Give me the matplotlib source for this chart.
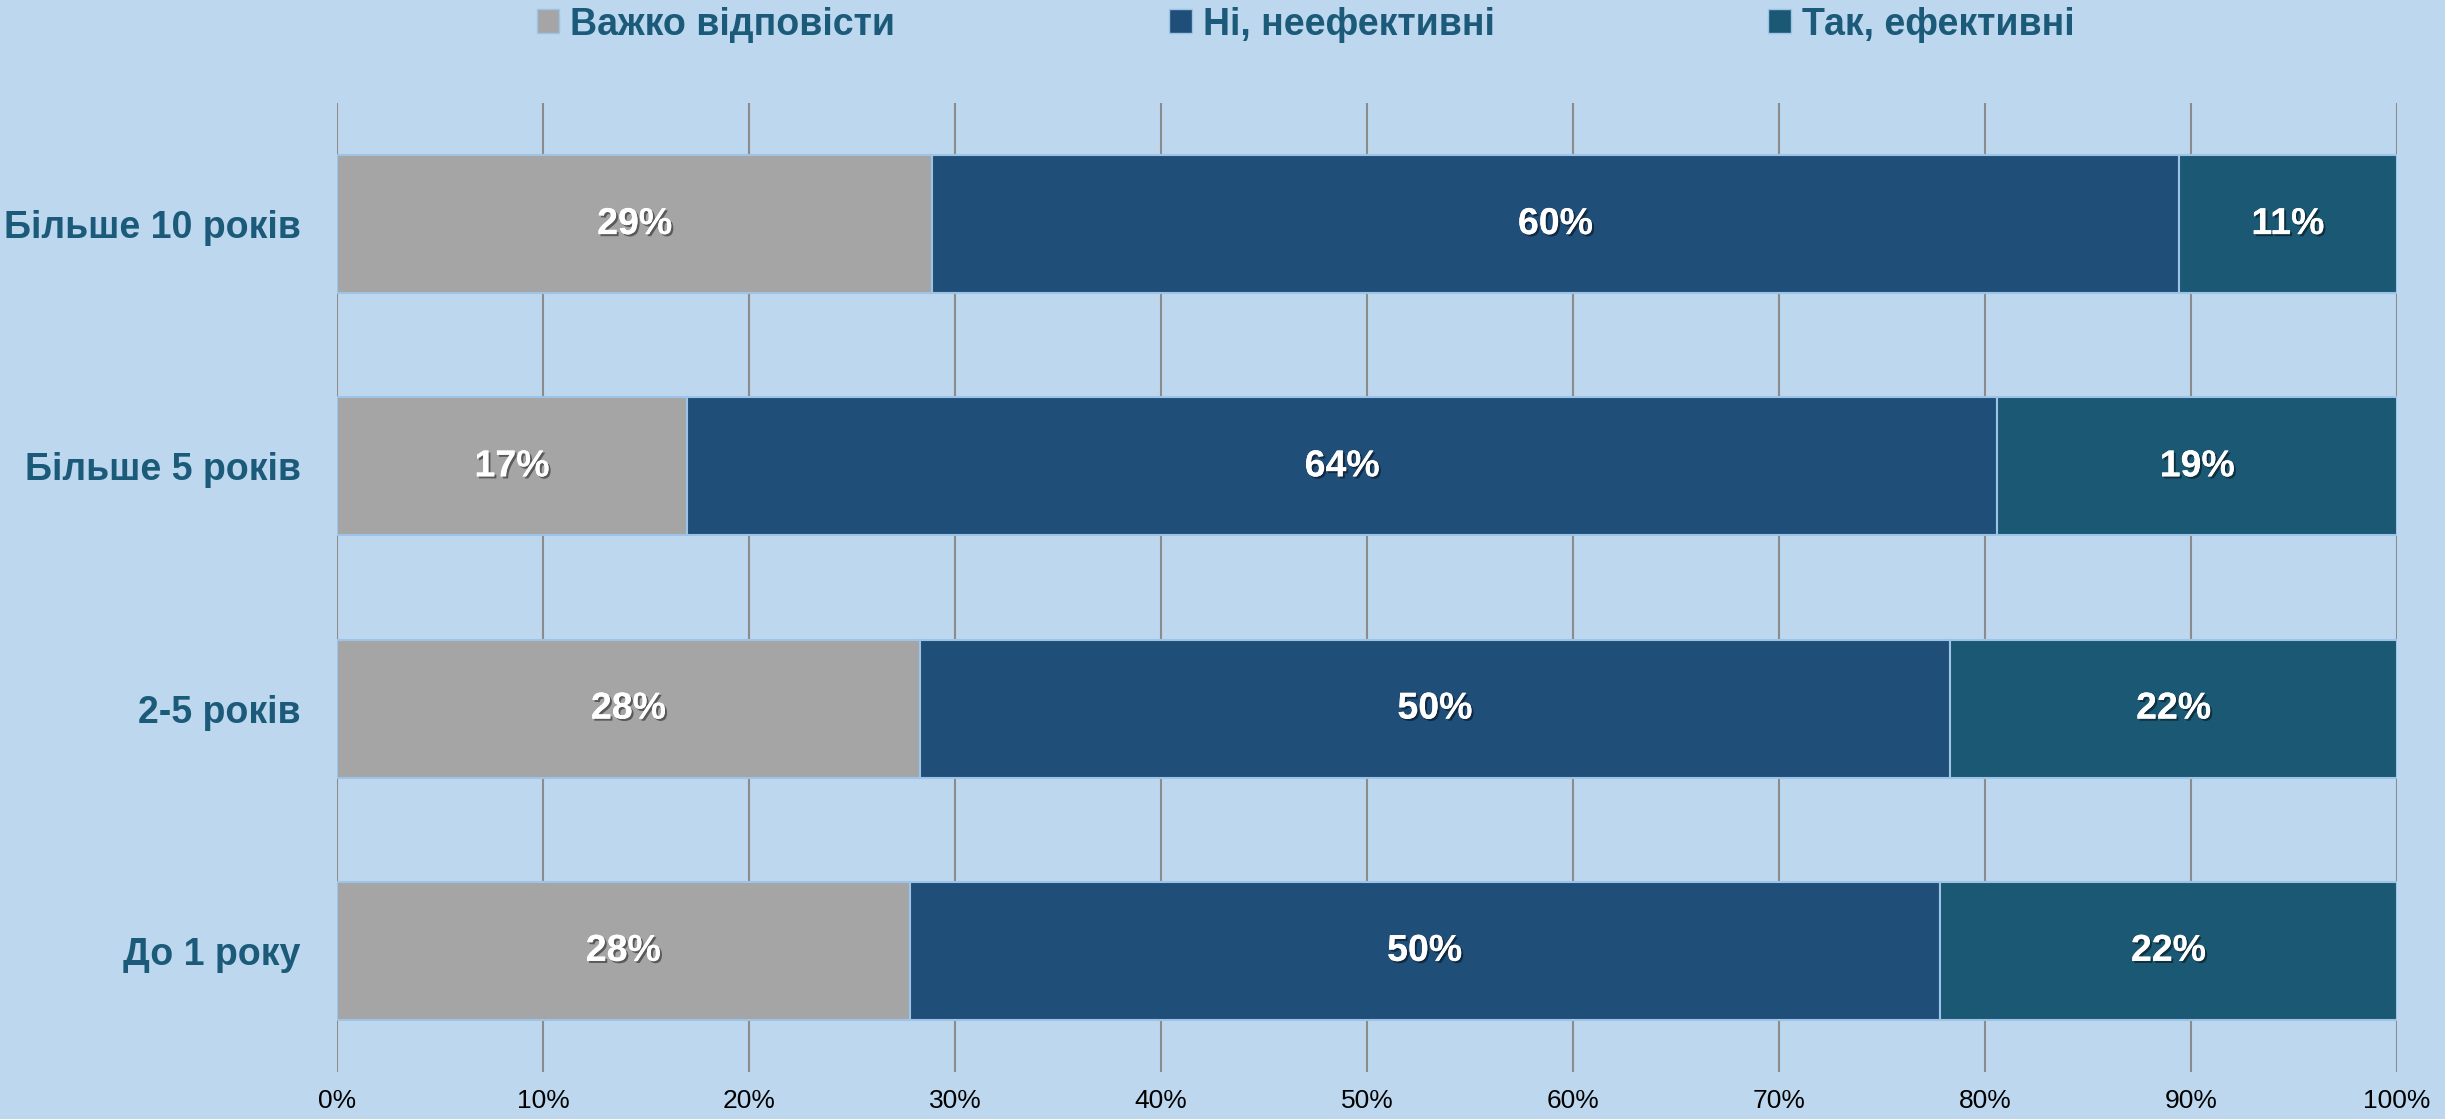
import matplotlib
matplotlib.use('Agg')
import matplotlib.pyplot as plt
import matplotlib.patheffects as pe
from matplotlib.patches import Patch

# data, top row first
categories = ['Більше 10 років', 'Більше 5 років', '2-5 років', 'До 1 року']
hard_to_say = [28.9, 17.0, 28.3, 27.8]
not_effective = [60.5, 63.6, 50.0, 50.0]
effective = [10.6, 19.4, 21.7, 22.2]
series_names = ['Важко відповісти', 'Ні, неефективні', 'Так, ефективні']
xticks = [0, 10, 20, 30, 40, 50, 60, 70, 80, 90, 100]

bg = '#BDD7EE'
colors = ['#A5A5A5', '#1F4E79', '#1B5873']
text_col = '#1B5A78'

plt.rcParams['font.family'] = ['Liberation Sans', 'DejaVu Sans']

fig = plt.figure(figsize=(24.45, 11.19), dpi=100, facecolor=bg)
ax = fig.add_axes([0.1378, 0.042, 0.8426, 0.866])
ax.set_facecolor(bg)

y = list(range(len(categories)))
left = [0.0] * len(categories)
for vals, col in zip([hard_to_say, not_effective, effective], colors):
    bars = ax.barh(y, vals, left=left, height=0.57, color=col,
                   edgecolor='#9DC3E6', linewidth=1.5, zorder=3)
    txt = ax.bar_label(bars, labels=[f'{v:.0f}%' for v in vals],
                       label_type='center', color='white', fontsize=27,
                       fontweight='bold')
    for t in txt:
        t.set_path_effects([pe.withSimplePatchShadow(offset=(1.5, -1.5),
                                                     shadow_rgbFace='black',
                                                     alpha=0.45),
                            pe.Normal()])
    left = [a + b for a, b in zip(left, vals)]

ax.set_xlim(0, 100)
ax.set_ylim(len(categories) - 0.5, -0.5)
ax.set_xticks(xticks)
ax.set_xticklabels([f'{t}%' for t in xticks], fontsize=19, color='black')
ax.set_yticks(y)
ax.set_yticklabels(categories, fontsize=27, fontweight='bold', color=text_col)
ax.tick_params(axis='both', length=0)
ax.tick_params(axis='x', pad=12)
ax.tick_params(axis='y', pad=26)
ax.grid(axis='x', color='#8C8C8C', linewidth=1.5, zorder=0)
for s in ax.spines.values():
    s.set_visible(False)

handles = [Patch(facecolor=c, edgecolor='#9DC3E6') for c in colors]
fig.legend(handles, series_names, loc='center', bbox_to_anchor=(0.534, 0.978),
           ncol=3, frameon=False, handlelength=0.6, handleheight=0.6,
           handletextpad=0.3, columnspacing=7.3,
           prop={'size': 27, 'weight': 'bold'}, labelcolor=text_col)

plt.savefig('out.png', dpi=100, facecolor=bg)
